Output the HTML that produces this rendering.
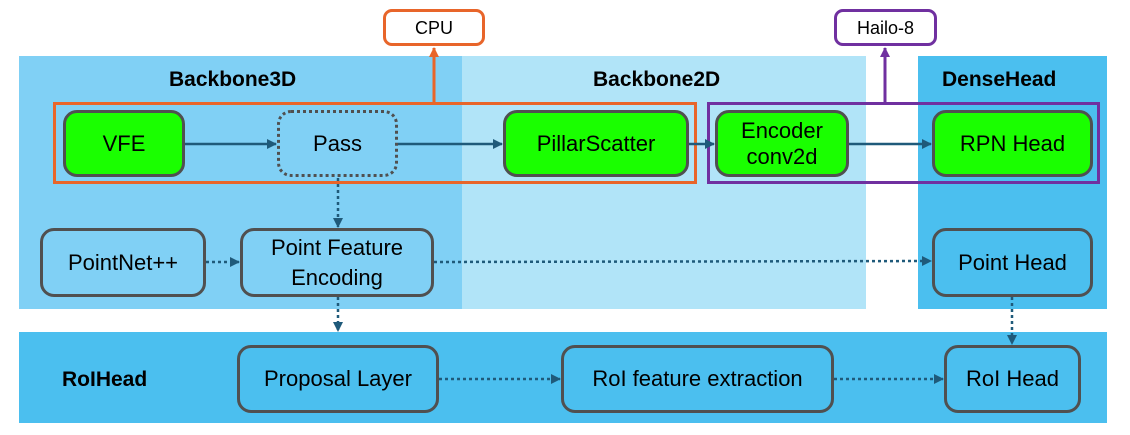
<!DOCTYPE html>
<html><head><meta charset="utf-8"><style>
body{margin:0;width:1130px;height:435px;background:#fff;position:relative;font-family:"Liberation Sans",sans-serif;overflow:hidden}
.r{position:absolute}
.n{position:absolute;box-sizing:border-box;border:3px solid #505050;border-radius:14px;display:flex;align-items:center;justify-content:center;text-align:center;font-size:22px;color:#000;line-height:26px}
.g{background:#1aff00}
.t{position:absolute;font-weight:bold;font-size:21px}
</style></head><body>
<div class="r" style="left:19px;top:56px;width:443px;height:253px;background:#80d0f5"></div>
<div class="r" style="left:462px;top:56px;width:404px;height:253px;background:#b1e4f8"></div>
<div class="r" style="left:918px;top:56px;width:189px;height:253px;background:#4bbfef"></div>
<div class="r" style="left:19px;top:332px;width:1088px;height:91px;background:#4bbfef"></div>
<div class="t" style="left:169px;top:68px">Backbone3D</div>
<div class="t" style="left:593px;top:68px">Backbone2D</div>
<div class="t" style="left:942px;top:68px">DenseHead</div>
<div class="t" style="left:62px;top:368px">RoIHead</div>

<div class="r" style="left:53px;top:102px;width:644px;height:82px;box-sizing:border-box;border:3px solid #e8652a"></div>
<div class="r" style="left:707px;top:102px;width:393px;height:82px;box-sizing:border-box;border:3px solid #7030a0"></div>
<div class="n" style="left:383px;top:9px;width:102px;height:37px;border-color:#e8652a;border-radius:9px;background:#fff;font-size:18px">CPU</div>
<div class="n" style="left:834px;top:9px;width:103px;height:37px;border-color:#7030a0;border-radius:9px;background:#fff;font-size:18px">Hailo-8</div>

<div class="n g" style="left:63px;top:110px;width:122px;height:67px">VFE</div>
<div class="n" style="left:277px;top:110px;width:121px;height:67px;border:3px dotted #505050">Pass</div>
<div class="n g" style="left:503px;top:110px;width:186px;height:67px">PillarScatter</div>
<div class="n g" style="left:715px;top:110px;width:134px;height:67px">Encoder<br>conv2d</div>
<div class="n g" style="left:932px;top:110px;width:161px;height:67px">RPN Head</div>
<div class="n" style="left:40px;top:228px;width:166px;height:69px">PointNet++</div>
<div class="n" style="left:240px;top:228px;width:194px;height:69px;line-height:30px">Point Feature<br>Encoding</div>
<div class="n" style="left:932px;top:228px;width:161px;height:69px">Point Head</div>
<div class="n" style="left:237px;top:345px;width:202px;height:68px">Proposal Layer</div>
<div class="n" style="left:561px;top:345px;width:273px;height:68px">RoI feature extraction</div>
<div class="n" style="left:944px;top:345px;width:137px;height:68px">RoI Head</div>

<svg class="r" style="left:0;top:0" width="1130" height="435">
<defs>
<marker id="a" markerWidth="10" markerHeight="10" refX="9" refY="5" orient="auto" markerUnits="userSpaceOnUse"><path d="M0,0L10,5L0,10z" fill="#1f5a7a"/></marker>
<marker id="o" markerWidth="10" markerHeight="10" refX="9" refY="5" orient="auto" markerUnits="userSpaceOnUse"><path d="M0,0L10,5L0,10z" fill="#e8652a"/></marker>
<marker id="p" markerWidth="10" markerHeight="10" refX="9" refY="5" orient="auto" markerUnits="userSpaceOnUse"><path d="M0,0L10,5L0,10z" fill="#7030a0"/></marker>
</defs>
<g stroke="#1f5a7a" stroke-width="2.5" fill="none">
<line x1="185" y1="144" x2="276" y2="144" marker-end="url(#a)"/>
<line x1="398" y1="144" x2="502" y2="144" marker-end="url(#a)"/>
<line x1="689" y1="144" x2="714" y2="144" marker-end="url(#a)"/>
<line x1="849" y1="144" x2="931" y2="144" marker-end="url(#a)"/>
<g stroke-dasharray="3,3">
<line x1="338" y1="178" x2="338" y2="227" marker-end="url(#a)"/>
<line x1="206" y1="262" x2="239" y2="262" marker-end="url(#a)"/>
<line x1="434" y1="262" x2="931" y2="261" marker-end="url(#a)"/>
<line x1="338" y1="297" x2="338" y2="331" marker-end="url(#a)"/>
<line x1="1012" y1="297" x2="1012" y2="344" marker-end="url(#a)"/>
<line x1="439" y1="379" x2="560" y2="379" marker-end="url(#a)"/>
<line x1="834" y1="379" x2="943" y2="379" marker-end="url(#a)"/>
</g></g>
<line x1="434" y1="102" x2="434" y2="48" stroke="#e8652a" stroke-width="3" marker-end="url(#o)"/>
<line x1="885" y1="102" x2="885" y2="48" stroke="#7030a0" stroke-width="3" marker-end="url(#p)"/>
</svg>
</body></html>
